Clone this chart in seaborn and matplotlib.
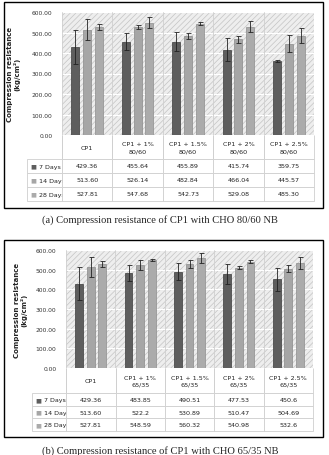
import numpy as np
import pandas as pd
import matplotlib
matplotlib.use("Agg")
import matplotlib.pyplot as plt
import matplotlib.patches as mpatches
import seaborn as sns

# Categories and series
days = ["7 Days", "14 Days", "28 Days"]
cats_a = ["CP1", "CP1 + 1%\n80/60", "CP1 + 1.5%\n80/60", "CP1 + 2%\n80/60", "CP1 + 2.5%\n80/60"]
cats_b = ["CP1", "CP1 + 1%\n65/35", "CP1 + 1.5%\n65/35", "CP1 + 2%\n65/35", "CP1 + 2.5%\n65/35"]

vals_a_7 = [429.36, 455.64, 455.89, 415.74, 359.75]
vals_a_14 = [513.60, 526.14, 482.84, 466.04, 445.57]
vals_a_28 = [527.81, 547.68, 542.73, 529.08, 485.30]
txt_a_7 = ["429.36", "455.64", "455.89", "415.74", "359.75"]
txt_a_14 = ["513.60", "526.14", "482.84", "466.04", "445.57"]
txt_a_28 = ["527.81", "547.68", "542.73", "529.08", "485.30"]
err_a_7 = [83, 40, 47, 55, 4]
err_a_14 = [50, 10, 15, 15, 42]
err_a_28 = [14, 28, 8, 25, 37]

vals_b_7 = [429.36, 483.85, 490.51, 477.53, 450.6]
vals_b_14 = [513.60, 522.2, 530.89, 510.47, 504.69]
vals_b_28 = [527.81, 548.59, 560.32, 540.98, 532.6]
txt_b_7 = ["429.36", "483.85", "490.51", "477.53", "450.6"]
txt_b_14 = ["513.60", "522.2", "530.89", "510.47", "504.69"]
txt_b_28 = ["527.81", "548.59", "560.32", "540.98", "532.6"]
err_b_7 = [83, 40, 42, 52, 58]
err_b_14 = [50, 25, 20, 6, 18]
err_b_28 = [14, 4, 25, 6, 30]

bar_colors = ["#5e5e5e", "#a6a6a6", "#ababab"]
edge_colors = ["#3c3c3c", "#8a8a8a", "#8e8e8e"]

sns.set_theme(style="white")
plt.rcParams["font.family"] = ["Liberation Sans Narrow", "DejaVu Sans"]
plt.rcParams["hatch.color"] = "#c4c4c4"
plt.rcParams["hatch.linewidth"] = 0.5

W, H = 329, 456
fig = plt.figure(figsize=(W / 100, H / 100), dpi=100)


def px_axes(x0, y0, x1, y1):
    return fig.add_axes([x0 / W, 1 - y1 / H, (x1 - x0) / W, (y1 - y0) / H])


def panel(ax, cats, v7, v14, v28, e7, e14, e28, t7, t14, t28,
          tab_left, tab_bottom, hdr_h, row_h, label_x):
    df = pd.DataFrame({
        "cat": cats * 3,
        "day": [d for d in days for _ in cats],
        "val": v7 + v14 + v28,
    })
    errs = [e7, e14, e28]
    sns.barplot(data=df, x="cat", y="val", hue="day", order=cats, hue_order=days,
                palette=bar_colors, width=0.7, gap=0.32, errorbar=None,
                legend=False, ax=ax, zorder=3)
    for cont, ec, err in zip(ax.containers, edge_colors, errs):
        xs, ys = [], []
        for bar in cont:
            bar.set_edgecolor(ec)
            bar.set_linewidth(0.5)
            xs.append(bar.get_x() + bar.get_width() / 2)
            ys.append(bar.get_height())
        ax.errorbar(xs, ys, yerr=err, fmt="none", ecolor="#222222",
                    elinewidth=0.6, capsize=1.8, capthick=0.6, zorder=4)

    ax.set_ylim(0, 600)
    ax.set_xlim(-0.5, len(cats) - 0.5)
    ax.set_yticks(np.arange(0, 601, 100))
    ax.set_yticklabels([f"{v:.2f}" for v in np.arange(0, 601, 100)], fontsize=4.3, color="#333333")
    ax.tick_params(axis="y", length=0, pad=7)
    ax.set_xticks([])
    ax.set_xlabel("")
    ax.set_ylabel("Compression resistance\n(kg/cm²)", fontsize=5, fontweight="bold",
                  color="#222222", linespacing=1.0)
    ax.yaxis.set_label_coords(label_x, 0.5)

    # textured plot background
    bg = mpatches.Rectangle((0, 0), 1, 1, transform=ax.transAxes, facecolor="#eeeeee",
                            edgecolor="#c4c4c4", hatch="//////", lw=0, zorder=0)
    ax.add_patch(bg)
    for y in range(100, 601, 100):
        ax.axhline(y, color="#ffffff", lw=0.8, zorder=1)
    for x in np.arange(0.5, len(cats) - 0.5, 1):
        ax.axvline(x, color="#d0d0d0", lw=0.6, zorder=1)
    for s in ax.spines.values():
        s.set_visible(False)
    ax.axvline(-0.5, color="#cfcfcf", lw=0.6, zorder=2)
    ax.axhline(0, color="#bfbfbf", lw=0.6, zorder=2)

    rows = [[""] + cats, days[0:1] + t7, days[1:2] + t14, days[2:3] + t28]
    tab = ax.table(cellText=rows, cellLoc="center",
                   colWidths=[35] + [50.4] * len(cats),
                   bbox=[tab_left, tab_bottom, 1 - tab_left, -tab_bottom])
    tab.auto_set_font_size(False)
    for (r, c), cell in tab.get_celld().items():
        cell.set_edgecolor("#cfcfcf")
        cell.set_linewidth(0.6)
        cell.set_height(hdr_h if r == 0 else row_h)
        cell.get_text().set_fontsize(4.6)
        cell.get_text().set_color("#222222")
        cell.get_text().set_linespacing(1.5)
        cell.PAD = 0.05
        if r == 0 and c == 0:
            cell.visible_edges = "R"
        elif r == 0:
            cell.visible_edges = "LRB"
        if c == 0 and r > 0:
            cell.get_text().set_text("     " + rows[r][0])
            cell._loc = "left"
            cell.get_text().set_horizontalalignment("left")

    # colour keys in the legend column
    total_h = hdr_h + 3 * row_h
    for i in range(3):
        yc = tab_bottom + (-tab_bottom) * (1 - (hdr_h + row_h * (i + 0.5)) / total_h)
        ax.text(tab_left + 0.012, yc, "■", transform=ax.transAxes, fontsize=4.5,
                color=bar_colors[i], va="center", ha="left",
                family=["DejaVu Sans"])


# Panel (a)
ax_a = px_axes(62, 13, 314, 136)
panel(ax_a, cats_a, vals_a_7, vals_a_14, vals_a_28, err_a_7, err_a_14, err_a_28,
      txt_a_7, txt_a_14, txt_a_28, (27 - 62) / 252, (136 - 202) / 123, 24, 14,
      (20 - 62) / 252)

# Panel (b)
ax_b = px_axes(66, 251, 313, 369)
panel(ax_b, cats_b, vals_b_7, vals_b_14, vals_b_28, err_b_7, err_b_14, err_b_28,
      txt_b_7, txt_b_14, txt_b_28, (32 - 66) / 247, (369 - 432) / 118, 25, 12.5,
      (27 - 66) / 247)

# Panel borders
for (x0, y0, x1, y1) in [(4, 3, 323, 209), (4, 241, 323, 438)]:
    fig.patches.append(mpatches.Rectangle((x0 / W, 1 - y1 / H), (x1 - x0) / W, (y1 - y0) / H,
                                          transform=fig.transFigure, fill=False,
                                          edgecolor="black", lw=1.0))

fig.text(160 / W, 1 - 220 / H, "(a) Compression resistance of CP1 with CHO 80/60 NB",
         ha="center", va="center", fontsize=7.6, family="Liberation Serif")
fig.text(160 / W, 1 - 451 / H, "(b) Compression resistance of CP1 with CHO 65/35 NB",
         ha="center", va="center", fontsize=7.6, family="Liberation Serif")

fig.savefig("out.png", dpi=100)
